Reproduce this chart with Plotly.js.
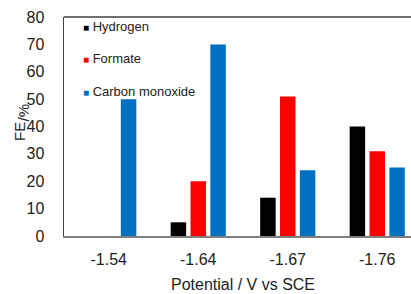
<!DOCTYPE html>
<html>
<head>
<meta charset="utf-8">
<script src="https://cdn.plot.ly/plotly-3.0.1.min.js"></script>
<style>
html,body{margin:0;padding:0;overflow:hidden;background:#fff;width:411px;height:294px;}
#chart{width:422px;height:294px;}
</style>
</head>
<body>
<div id="chart"></div>
<script>
var categories = ['-1.54', '-1.64', '-1.67', '-1.76'];
var seriesNames = ['Hydrogen', 'Formate', 'Carbon monoxide'];
var hydrogen = [0, 5, 14, 40];
var formate = [0, 20, 51, 31];
var carbonMonoxide = [50, 70, 24, 25];
var colors = ['#000000', '#FF0000', '#0070C0'];
var yTicks = [0, 10, 20, 30, 40, 50, 60, 70, 80];

var seriesValues = [hydrogen, formate, carbonMonoxide];
var font = 'Liberation Sans, Arial, sans-serif';

var traces = seriesValues.map(function (vals, i) {
  return {
    type: 'bar',
    name: seriesNames[i],
    x: categories,
    y: vals,
    marker: {color: colors[i]},
    showlegend: false
  };
});

var annotations = [];
var legendY = [26.7, 58, 91];
var plotTop = 17, plotBottom = 236, plotLeft = 64, plotW = 358, plotH = plotBottom - plotTop;
seriesNames.forEach(function (n, i) {
  annotations.push({
    xref: 'paper', yref: 'paper',
    x: (81 - plotLeft) / plotW, y: (plotBottom - legendY[i]) / plotH,
    xanchor: 'left', yanchor: 'middle', showarrow: false,
    text: '<span style="color:' + colors[i] + ';font-size:10px">■</span> ' + n,
    font: {family: font, size: 13, color: '#222'}
  });
});
annotations.push({
  xref: 'paper', yref: 'paper', x: 0, xshift: 19 - plotLeft,
  y: (plotBottom - 132) / plotH, xanchor: 'center', yanchor: 'middle',
  textangle: -90, showarrow: false, text: 'FE',
  font: {family: font, size: 15, color: '#222'}
});
annotations.push({
  xref: 'paper', yref: 'paper', x: 0, xshift: 22.5 - plotLeft,
  y: (plotBottom - 113) / plotH, xanchor: 'center', yanchor: 'middle',
  textangle: -90, showarrow: false, text: '/%',
  font: {family: font, size: 15, color: '#222'}
});

var layout = {
  width: 422, height: 294,
  margin: {l: plotLeft, r: 0, t: plotTop, b: 294 - plotBottom, pad: 0},
  paper_bgcolor: '#ffffff', plot_bgcolor: '#ffffff',
  barmode: 'group', bargap: 0.335, bargroupgap: 0.22,
  showlegend: false,
  font: {family: font, color: '#222'},
  xaxis: {
    type: 'category', range: [-0.5, 3.5],
    showline: true, linecolor: '#808080', linewidth: 2,
    ticks: '', showgrid: false, zeroline: false,
    tickfont: {family: font, size: 16, color: '#222'},
    ticklabelstandoff: 8,
    title: {text: 'Potential / V vs SCE', font: {family: font, size: 16, color: '#222'}, standoff: 12},
    fixedrange: true
  },
  yaxis: {
    range: [0, 80], tickvals: yTicks, ticktext: yTicks.map(String),
    showline: true, linecolor: '#404040', linewidth: 1.5,
    ticks: 'outside', ticklen: 15, tickcolor: 'rgba(0,0,0,0)',
    showgrid: false, zeroline: false,
    tickfont: {family: font, size: 16, color: '#222'},
    fixedrange: true
  },
  shapes: [{
    type: 'line', xref: 'paper', yref: 'paper', x0: 0, x1: 1, y0: 1, y1: 1,
    line: {color: '#404040', width: 1.5}
  }],
  annotations: annotations
};

Plotly.newPlot('chart', traces, layout, {displayModeBar: false, staticPlot: true});
</script>
</body>
</html>
